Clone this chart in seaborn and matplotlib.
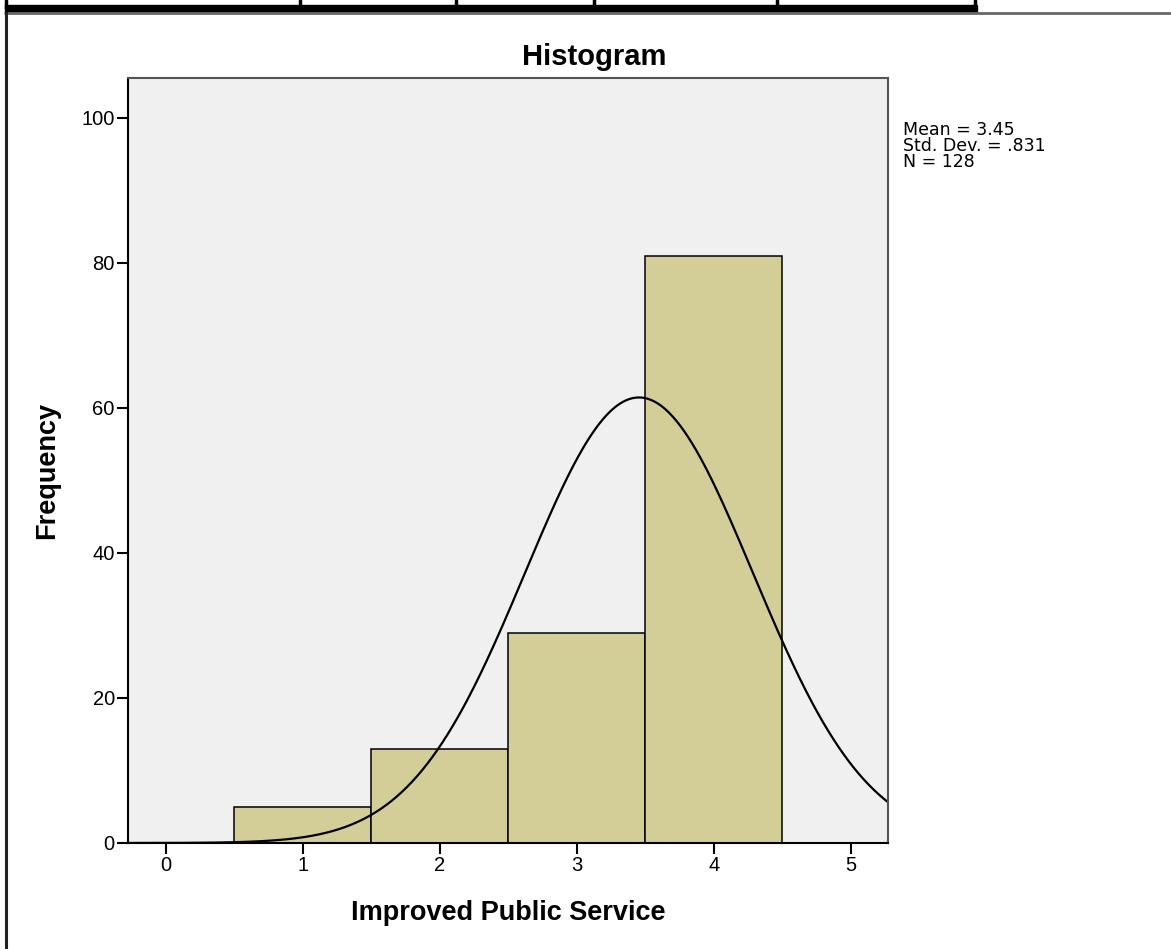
import numpy as np
import pandas as pd
import matplotlib
matplotlib.use("Agg")
import matplotlib.pyplot as plt
import seaborn as sns
from matplotlib.lines import Line2D
from matplotlib.patches import Rectangle

# ---- data ----
values = [1, 2, 3, 4]
counts = [5, 13, 29, 81]
bin_edges = [0.5, 1.5, 2.5, 3.5, 4.5]
x_ticks = [0, 1, 2, 3, 4, 5]
y_ticks = [0, 20, 40, 60, 80, 100]
title = "Histogram"
x_label = "Improved Public Service"
y_label = "Frequency"

raw = np.repeat(values, counts)
df = pd.DataFrame({"score": raw})
mean = raw.mean()
std = raw.std(ddof=1)
n = len(raw)

sns.set_theme(style="white")
plt.rcParams["font.family"] = ["Liberation Sans", "DejaVu Sans"]
for k in ["text.color", "axes.labelcolor", "xtick.color", "ytick.color"]:
    plt.rcParams[k] = "black"

W, H = 1171, 949
fig = plt.figure(figsize=(W / 100, H / 100), dpi=100)
ax = fig.add_axes([128 / W, 1 - 843 / H, (888 - 128) / W, (843 - 78) / H])
ax.set_facecolor("#f0f0f0")

sns.histplot(data=df, x="score", bins=bin_edges, stat="count",
             color="#d3ce97", edgecolor="black", linewidth=1.1, alpha=1,
             ax=ax)

xs = np.linspace(-0.3, 5.3, 600)
pdf = n * 1.0 / (std * np.sqrt(2 * np.pi)) * np.exp(-0.5 * ((xs - mean) / std) ** 2)
sns.lineplot(x=xs, y=pdf, color="black", linewidth=1.6, ax=ax)

ax.set_xlim(-0.275, 5.27)
ax.set_ylim(0, 105.5)
ax.set_xticks(x_ticks)
ax.set_yticks(y_ticks)
ax.set_xticklabels([str(t) for t in x_ticks], fontsize=14.5)
ax.set_yticklabels([str(t) for t in y_ticks], fontsize=14.5)
ax.tick_params(axis="both", direction="out", length=8, width=1.5, color="black",
               bottom=True, left=True, pad=1.5)
for s in ax.spines.values():
    s.set_color("#555555")
    s.set_linewidth(1.5)
ax.spines["left"].set_color("black")
ax.spines["bottom"].set_color("black")
ax.set_xlabel("")
ax.set_ylabel("")

def fx(p):
    return p / W

def fy(p):
    return 1 - p / H

fig.text(fx(594), fy(57), title, fontsize=21, fontweight="bold",
         ha="center", va="center")
fig.text(fx(508), fy(913), x_label, fontsize=19.5, fontweight="bold",
         ha="center", va="center")
fig.text(fx(47), fy(470), y_label, fontsize=19.5, fontweight="bold",
         ha="center", va="center", rotation=90)

fig.text(fx(903), fy(121),
         f"Mean = {mean:.2f}\nStd. Dev. = {('%.3f' % std).lstrip('0')}\nN = {n}",
         fontsize=12.5, va="top", ha="left", linespacing=0.84,
         family=["DejaVu Sans"])

# ---- surrounding frame (output viewer remnants) ----
fig.patches.append(Rectangle((fx(5), fy(11)), fx(977) - fx(5), fy(5) - fy(11),
                             transform=fig.transFigure, color="black", zorder=5))
for xv in [6, 300, 456, 594, 777, 975]:
    fig.lines.append(Line2D([fx(xv), fx(xv)], [fy(0), fy(8)],
                            transform=fig.transFigure, color="black", lw=2.5))
fig.lines.append(Line2D([fx(5), 1], [fy(13), fy(13)], transform=fig.transFigure,
                        color="#666666", lw=2))
fig.lines.append(Line2D([fx(6), fx(6)], [fy(12), 0], transform=fig.transFigure,
                        color="#222222", lw=2.2))

fig.savefig("out.png", dpi=100, facecolor="white")
